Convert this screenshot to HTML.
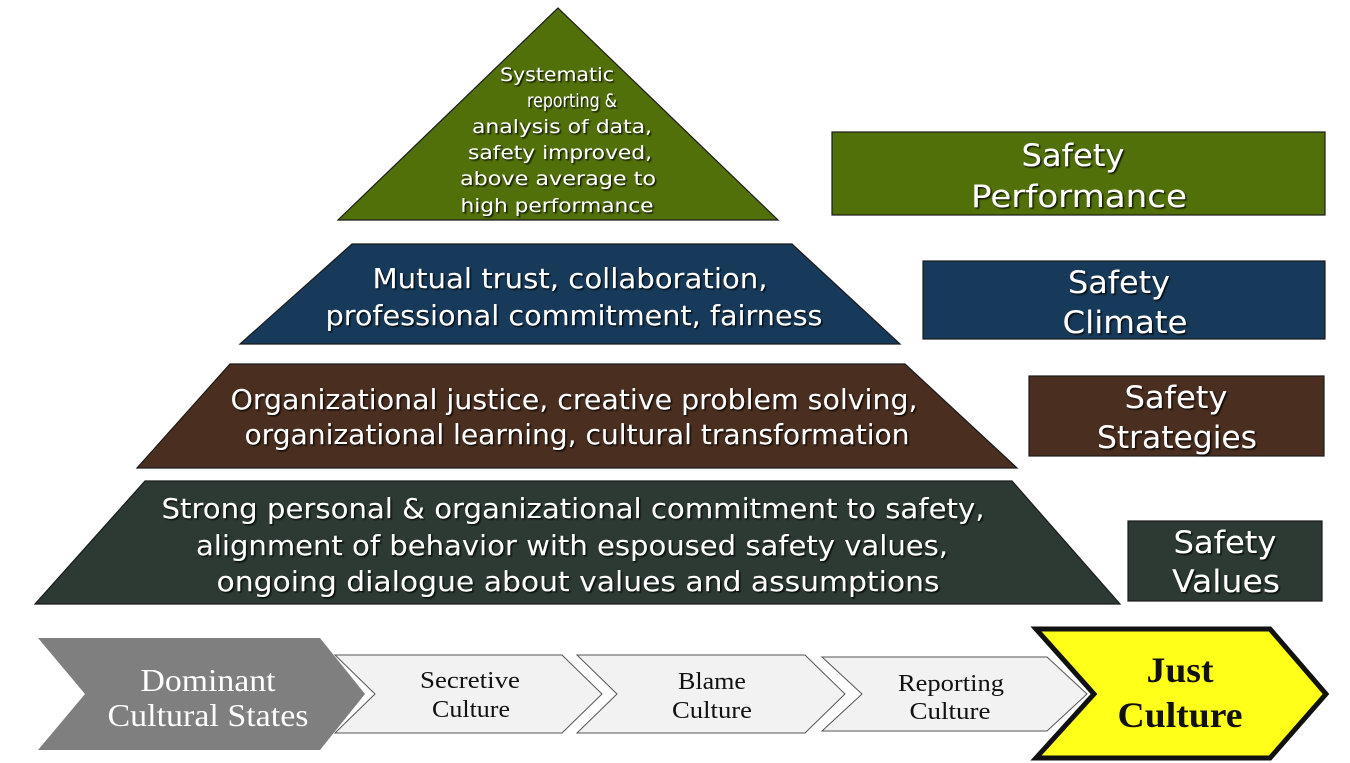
<!DOCTYPE html>
<html><head><meta charset="utf-8"><style>
html,body{margin:0;padding:0;background:#fff;}
svg{display:block}
.s{font-family:"DejaVu Sans","Liberation Sans",sans-serif;fill:#fff;text-anchor:middle;filter:url(#sh)}
.r{font-family:"Liberation Serif",serif;text-anchor:middle}
</style></head><body>
<svg width="1350" height="763" viewBox="0 0 1350 763" xmlns="http://www.w3.org/2000/svg">
<defs><filter id="sh" x="-10%" y="-30%" width="120%" height="160%"><feDropShadow dx="1.5" dy="1.5" stdDeviation="0.8" flood-color="#000" flood-opacity="0.8"/></filter></defs>
<g stroke="#1a1a1a" stroke-width="1.2">
<polygon points="558,8 778,220 338,220" fill="#52700a"/>
<polygon points="352,244 792,244 900,344 240,344" fill="#173a5a"/>
<polygon points="230,364 905,364 1017,468 137,468" fill="#4a2e20"/>
<polygon points="145,481 1012,481 1120,604 35,604" fill="#2c3a33"/>
<rect x="832" y="132" width="493" height="83" fill="#52700a"/>
<rect x="923" y="261" width="402" height="78" fill="#173a5a"/>
<rect x="1029" y="376" width="295" height="80" fill="#4a2e20"/>
<rect x="1128" y="521" width="194" height="80" fill="#2c3a33"/>
</g>
<g class="s" font-size="19" lengthAdjust="spacingAndGlyphs">
<text x="557" y="81" textLength="114" lengthAdjust="spacingAndGlyphs">Systematic</text>
<text x="572" y="107" textLength="90" lengthAdjust="spacingAndGlyphs">reporting &amp;</text>
<text x="562" y="133" textLength="180" lengthAdjust="spacingAndGlyphs">analysis of data,</text>
<text x="560" y="159" textLength="184" lengthAdjust="spacingAndGlyphs">safety improved,</text>
<text x="558" y="185" textLength="196" lengthAdjust="spacingAndGlyphs">above average to</text>
<text x="557" y="212" textLength="193" lengthAdjust="spacingAndGlyphs">high performance</text>
</g>
<g class="s" font-size="28">
<text x="570" y="288" textLength="395" lengthAdjust="spacingAndGlyphs">Mutual trust, collaboration,</text>
<text x="574" y="325" textLength="497" lengthAdjust="spacingAndGlyphs">professional commitment, fairness</text>
<text x="574" y="409" textLength="687" lengthAdjust="spacingAndGlyphs">Organizational justice, creative problem solving,</text>
<text x="577" y="444" textLength="665" lengthAdjust="spacingAndGlyphs">organizational learning, cultural transformation</text>
<text x="573" y="518" textLength="823" lengthAdjust="spacingAndGlyphs">Strong personal &amp; organizational commitment to safety,</text>
<text x="572" y="555" textLength="752" lengthAdjust="spacingAndGlyphs">alignment of behavior with espoused safety values,</text>
<text x="578" y="591" textLength="723" lengthAdjust="spacingAndGlyphs">ongoing dialogue about values and assumptions</text>
</g>
<g class="s" font-size="31">
<text x="1073" y="166" textLength="103" lengthAdjust="spacingAndGlyphs">Safety</text>
<text x="1079" y="207" textLength="216" lengthAdjust="spacingAndGlyphs">Performance</text>
<text x="1119" y="293" textLength="102" lengthAdjust="spacingAndGlyphs">Safety</text>
<text x="1125" y="333" textLength="125" lengthAdjust="spacingAndGlyphs">Climate</text>
<text x="1176" y="408" textLength="103" lengthAdjust="spacingAndGlyphs">Safety</text>
<text x="1177" y="448" textLength="160" lengthAdjust="spacingAndGlyphs">Strategies</text>
<text x="1225" y="553" textLength="103" lengthAdjust="spacingAndGlyphs">Safety</text>
<text x="1226" y="592" textLength="108" lengthAdjust="spacingAndGlyphs">Values</text>
</g>
<polygon points="38,638 320,638 365,694 320,750 38,750 85,694" fill="#7f7f7f"/>
<g fill="#f2f2f2" stroke="#555" stroke-width="1">
<polygon points="335,655 562,655 602,694 562,733 335,733 375,694"/>
<polygon points="577,655 805,655 845,694 805,733 577,733 617,694"/>
<polygon points="822,657 1047,657 1087,694 1047,731 822,731 862,694"/>
</g>
<polygon points="1036,629 1270,629 1326,694 1270,758 1036,758 1094,694" fill="#ffff1a" stroke="#111" stroke-width="5"/>
<g class="r" fill="#fff" font-size="32">
<text x="208" y="691" textLength="135" lengthAdjust="spacingAndGlyphs">Dominant</text>
<text x="208" y="726" textLength="201" lengthAdjust="spacingAndGlyphs">Cultural States</text>
</g>
<g class="r" fill="#111" font-size="24">
<text x="470" y="688" textLength="100" lengthAdjust="spacingAndGlyphs">Secretive</text>
<text x="471" y="717" textLength="78" lengthAdjust="spacingAndGlyphs">Culture</text>
<text x="712" y="689" textLength="68" lengthAdjust="spacingAndGlyphs">Blame</text>
<text x="712" y="718" textLength="80" lengthAdjust="spacingAndGlyphs">Culture</text>
<text x="951" y="691" textLength="106" lengthAdjust="spacingAndGlyphs">Reporting</text>
<text x="950" y="719" textLength="81" lengthAdjust="spacingAndGlyphs">Culture</text>
</g>
<g class="r" fill="#111" font-size="36" font-weight="bold">
<text x="1180" y="682" textLength="67" lengthAdjust="spacingAndGlyphs">Just</text>
<text x="1180" y="727" textLength="125" lengthAdjust="spacingAndGlyphs">Culture</text>
</g>
</svg>
</body></html>
